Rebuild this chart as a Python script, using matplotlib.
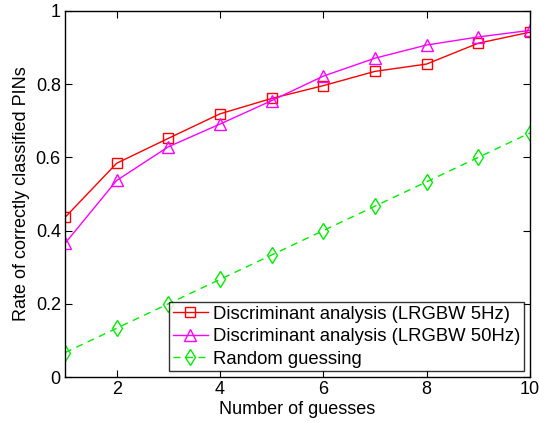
import matplotlib
matplotlib.use("Agg")
import matplotlib.pyplot as plt

plt.rcParams['font.family'] = ['Liberation Sans', 'DejaVu Sans']

guesses = [1, 2, 3, 4, 5, 6, 7, 8, 9, 10]
da_5hz = [0.436, 0.584, 0.652, 0.719, 0.761, 0.796, 0.835, 0.855, 0.912, 0.942]
da_50hz = [0.365, 0.537, 0.629, 0.691, 0.755, 0.822, 0.871, 0.907, 0.929, 0.947]
random_guess = [0.0667, 0.1333, 0.2, 0.2667, 0.3333, 0.4, 0.4667, 0.5333, 0.6, 0.6667]

labels = ['Discriminant analysis (LRGBW 5Hz)',
          'Discriminant analysis (LRGBW 50Hz)',
          'Random guessing']

fig = plt.figure(figsize=(5.39, 4.23), dpi=100)
ax = fig.add_axes([0.1206, 0.1087, 0.8624, 0.8653])

ax.plot(guesses, da_5hz, '-', color='#ff0000', marker='s', markersize=6.5,
        markerfacecolor='none', markeredgewidth=1.0, linewidth=1.0, label=labels[0])
ax.plot(guesses, da_50hz, '-', color='#ff00ff', marker='^', markersize=8.5,
        markerfacecolor='none', markeredgewidth=1.0, linewidth=1.0, label=labels[1])
ax.plot(guesses, random_guess, '--', color='#00ee00', marker='d', markersize=8.5,
        markerfacecolor='none', markeredgewidth=1.0, linewidth=1.0,
        dashes=(5, 4), label=labels[2])

ax.set_xlim(1, 10)
ax.set_ylim(0, 1)
ax.set_xticks([2, 4, 6, 8, 10])
ax.set_yticks([0, 0.2, 0.4, 0.6, 0.8, 1])
ax.set_yticklabels(['0', '0.2', '0.4', '0.6', '0.8', '1'])
ax.tick_params(direction='in', top=True, right=True, labelsize=13, length=5, pad=3)
ax.set_xlabel('Number of guesses', fontsize=13, labelpad=2)
ax.set_ylabel('Rate of correctly classified PINs', fontsize=13, labelpad=4)
for s in ax.spines.values():
    s.set_linewidth(1.0)

leg = ax.legend(loc='lower right', fontsize=13.3, frameon=True, fancybox=False,
                edgecolor='black', borderpad=0.2, labelspacing=0.3,
                handlelength=1.9, handletextpad=0.3, borderaxespad=0.3)
leg.get_frame().set_linewidth(1.0)

fig.savefig('out.png', dpi=100)
